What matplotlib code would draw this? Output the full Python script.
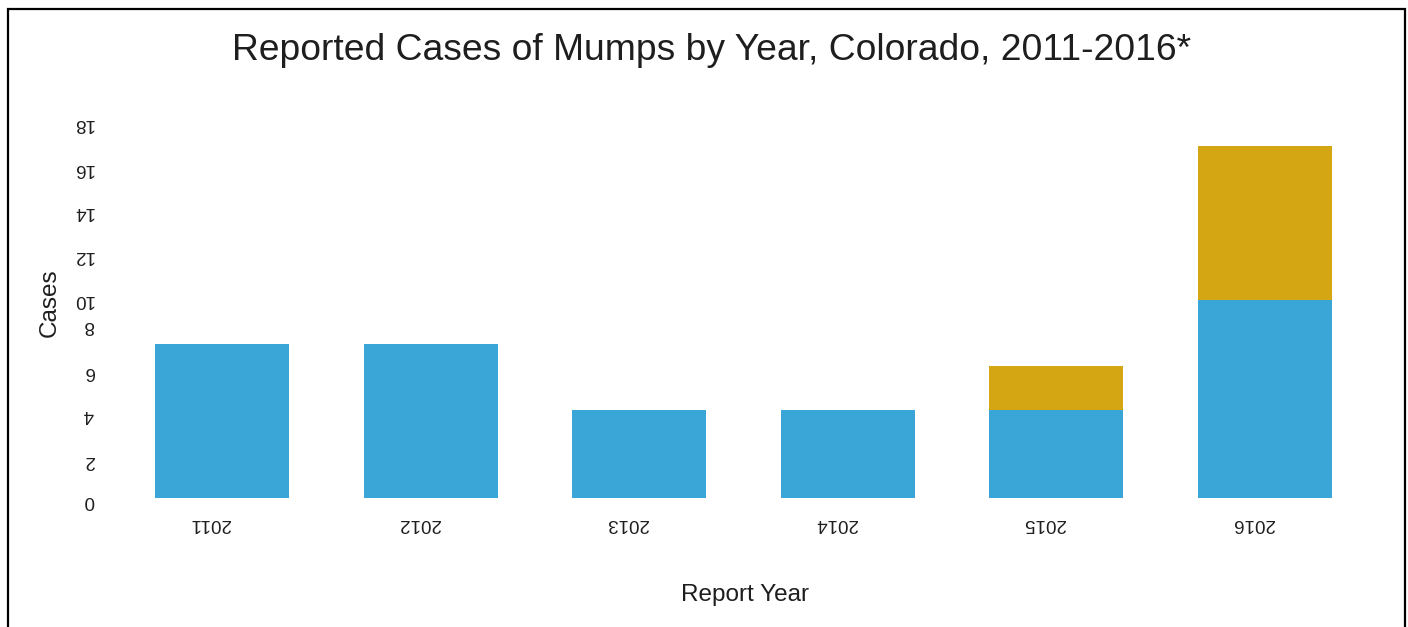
import matplotlib
matplotlib.use("Agg")
import matplotlib.pyplot as plt
import matplotlib.transforms as mtrans
from matplotlib.patches import Rectangle

# data
years = ["2011", "2012", "2013", "2014", "2015", "2016"]
cases_a = [7, 7, 4, 4, 4, 9]
cases_b = [0, 0, 0, 0, 2, 7]

ytick_lab = ["0", "2", "4", "6", "8", "10", "12", "14", "16", "18"]
# where the labels sit in the source picture (not evenly spaced there)
ytick_pos = [0, 1.8, 3.9, 5.85, 7.95, 9.1, 11.1, 13.1, 15.05, 17.1]

col_a = "#3aa6d8"
col_b = "#d4a613"
txt = "#1e1e1e"

plt.rcParams["font.family"] = ["Liberation Sans", "DejaVu Sans"]

#_____________________________________________________________________________
def main():

    W, H = 1408, 627
    fig = plt.figure(figsize=(W/100., H/100.), dpi=100)
    fig.patch.set_facecolor("white")

    ax = fig.add_axes([117.7/W, (H-498.)/H, 1251.6/W, 396./H])

    x = range(len(years))
    ax.bar(x, cases_a, width=0.642, color=col_a, lw=0)
    ax.bar(x, cases_b, width=0.642, bottom=cases_a, color=col_b, lw=0)

    ax.set_xlim(-0.5, 5.5)
    ax.set_ylim(0, 18)

    for s in ax.spines.values():
        s.set_visible(False)

    ax.set_xticks(list(x))
    ax.set_xticklabels(years, rotation=180, fontsize=13.5, color=txt)
    ax.set_yticks(ytick_pos)
    ax.set_yticklabels(ytick_lab, rotation=180, fontsize=13.5, color=txt)
    ax.tick_params(axis="x", length=0, pad=12)
    ax.tick_params(axis="y", length=0, pad=17)

    shift = mtrans.ScaledTranslation(-12/100., 0, fig.dpi_scale_trans)
    for lab in ax.get_xticklabels():
        lab.set_transform(lab.get_transform() + shift)

    fig.text(712./W, 1-50./H, "Reported Cases of Mumps by Year, Colorado, 2011-2016*",
             ha="center", va="center", fontsize=26.8, color=txt)
    fig.text(50./W, 1-303./H, "Cases", rotation=90, ha="center", va="center",
             fontsize=17.5, color=txt)
    fig.text(745./W, 1-595./H, "Report Year", ha="center", va="center",
             fontsize=17.5, color=txt)

    # outer frame, open at the bottom edge
    fig.patches.append(Rectangle((8./W, -0.05), (1405.-8.)/W, 1.05-9./H,
                                 transform=fig.transFigure, fill=False,
                                 ec="black", lw=1.6))

    fig.savefig("out.png", dpi=100)
    plt.close()

#main

#_____________________________________________________________________________
if __name__ == "__main__":

    main()
